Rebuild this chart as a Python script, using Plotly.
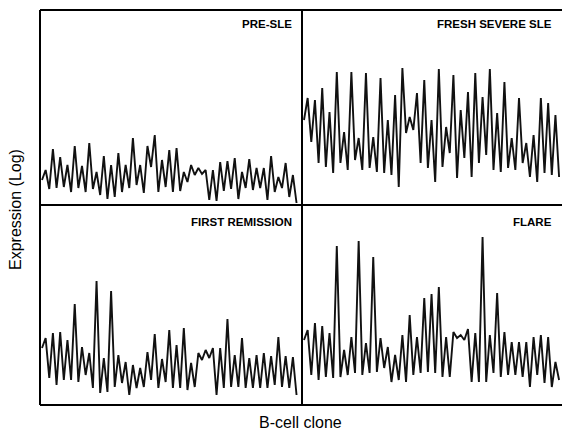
import plotly.graph_objects as go

# Expression level (arbitrary log units) per B-cell clone
pre_sle = [25, 35, 16, 56, 17, 48, 18, 40, 13, 59, 17, 39, 13, 62, 16, 33, 10, 49, 6, 40,
           8, 52, 13, 40, 17, 67, 20, 40, 12, 59, 38, 70, 13, 45, 18, 55, 13, 57, 14, 33,
           23, 40, 30, 37, 31, 35, 5, 35, 4, 43, 14, 44, 16, 47, 6, 33, 17, 46, 15, 37,
           17, 37, 5, 49, 13, 28, 17, 42, 8, 30, 2]
fresh_severe = [85, 107, 63, 105, 42, 117, 38, 93, 32, 133, 42, 73, 35, 133, 45, 67, 35, 132, 37, 68,
                33, 127, 32, 85, 30, 110, 18, 137, 72, 88, 75, 112, 42, 125, 37, 85, 23, 136, 38, 78,
                52, 130, 27, 95, 47, 113, 28, 132, 42, 108, 50, 136, 35, 92, 33, 123, 37, 67, 35, 107,
                42, 62, 28, 70, 23, 107, 32, 102, 30, 90, 28]
first_remission = [57, 67, 27, 72, 20, 73, 25, 65, 25, 101, 23, 58, 30, 52, 17, 124, 12, 47, 13, 114,
                   18, 50, 22, 43, 10, 40, 17, 37, 18, 53, 25, 71, 17, 46, 23, 75, 17, 60, 17, 77,
                   15, 42, 18, 52, 45, 55, 47, 57, 10, 57, 17, 86, 18, 50, 18, 67, 17, 47, 17, 50,
                   17, 52, 17, 49, 20, 68, 18, 49, 17, 48, 10]
flare = [65, 75, 30, 82, 25, 79, 28, 72, 27, 159, 28, 55, 30, 68, 32, 164, 30, 62, 32, 148,
         33, 67, 37, 58, 23, 50, 25, 70, 23, 90, 30, 68, 32, 107, 33, 111, 32, 118, 28, 68,
         28, 73, 67, 70, 65, 76, 23, 72, 23, 168, 23, 70, 32, 112, 28, 73, 30, 63, 30, 63,
         28, 63, 18, 68, 30, 70, 22, 68, 18, 43, 25]

panel_titles = ["PRE-SLE", "FRESH SEVERE SLE", "FIRST REMISSION", "FLARE"]
series = [pre_sle, fresh_severe, first_remission, flare]

W, H = 562, 433
ML, MR, MT, MB = 40, 0, 10, 28
PW = W - ML - MR
PH = H - MT - MB
xsplit = 262 / PW
ysplit = 200 / PH

fig = go.Figure()
axes = [("x", "y"), ("x2", "y2"), ("x3", "y3"), ("x4", "y4")]
for (xa, ya), vals in zip(axes, series):
    fig.add_trace(go.Scatter(x=list(range(len(vals))), y=vals, mode="lines",
                             line=dict(color="#111111", width=1.9),
                             xaxis=xa, yaxis=ya, showlegend=False, hoverinfo="skip"))

ax_common = dict(showgrid=False, zeroline=False, showticklabels=False, ticks="",
                 showline=False, fixedrange=True)
fig.update_layout(
    width=W, height=H,
    margin=dict(l=ML, r=MR, t=MT, b=MB),
    paper_bgcolor="white", plot_bgcolor="white",
    xaxis=dict(domain=[0, xsplit], range=[-0.55, 71.5], anchor="y", **ax_common),
    yaxis=dict(domain=[ysplit, 1], range=[0, 195], anchor="x", **ax_common),
    xaxis2=dict(domain=[xsplit, 1], range=[-0.55, 70.8], anchor="y2", **ax_common),
    yaxis2=dict(domain=[ysplit, 1], range=[0, 195], anchor="x2", **ax_common),
    xaxis3=dict(domain=[0, xsplit], range=[-0.55, 71.5], anchor="y3", **ax_common),
    yaxis3=dict(domain=[0, ysplit], range=[0, 200], anchor="x3", **ax_common),
    xaxis4=dict(domain=[xsplit, 1], range=[-0.55, 70.8], anchor="y4", **ax_common),
    yaxis4=dict(domain=[0, ysplit], range=[0, 200], anchor="x4", **ax_common),
)

# frame and dividers
lw = 2
frame = [
    (0, 1, 1, 1),          # top
    (0, 0, 0, 1),          # left
    (0, 0, 1, 0),          # bottom
    (0, ysplit, 1, ysplit),  # horizontal divider
    (xsplit, 0, xsplit, 1),  # vertical divider
]
for x0, y0, x1, y1 in frame:
    fig.add_shape(type="line", xref="paper", yref="paper", x0=x0, y0=y0, x1=x1, y1=y1,
                  line=dict(color="black", width=lw))

lab_font = dict(family="Liberation Sans, Arial, sans-serif", size=11.5, color="black")
right_l = (294 - ML) / PW
right_r = (554 - ML) / PW
y_top = (H - MB - 24) / PH
y_bot = (H - MB - 222) / PH
positions = [(right_l, y_top), (right_r, y_top), (right_l, y_bot), (right_r, y_bot)]
for text, (px, py) in zip(panel_titles, positions):
    fig.add_annotation(text="<b>" + text + "</b>", xref="paper", yref="paper", x=px, y=py,
                       xanchor="right", yanchor="middle", showarrow=False, font=lab_font)

title_font = dict(family="Liberation Sans, Arial, sans-serif", size=16, color="black")
fig.add_annotation(text="Expression (Log)", xref="paper", yref="paper",
                   x=(15 - ML) / PW, y=(H - MB - 210) / PH, textangle=-90,
                   xanchor="center", yanchor="middle", showarrow=False, font=title_font)
fig.add_annotation(text="B-cell clone", xref="paper", yref="paper",
                   x=(300 - ML) / PW, y=(H - MB - 422) / PH,
                   xanchor="center", yanchor="middle", showarrow=False, font=title_font)

fig.write_html("out.html")
